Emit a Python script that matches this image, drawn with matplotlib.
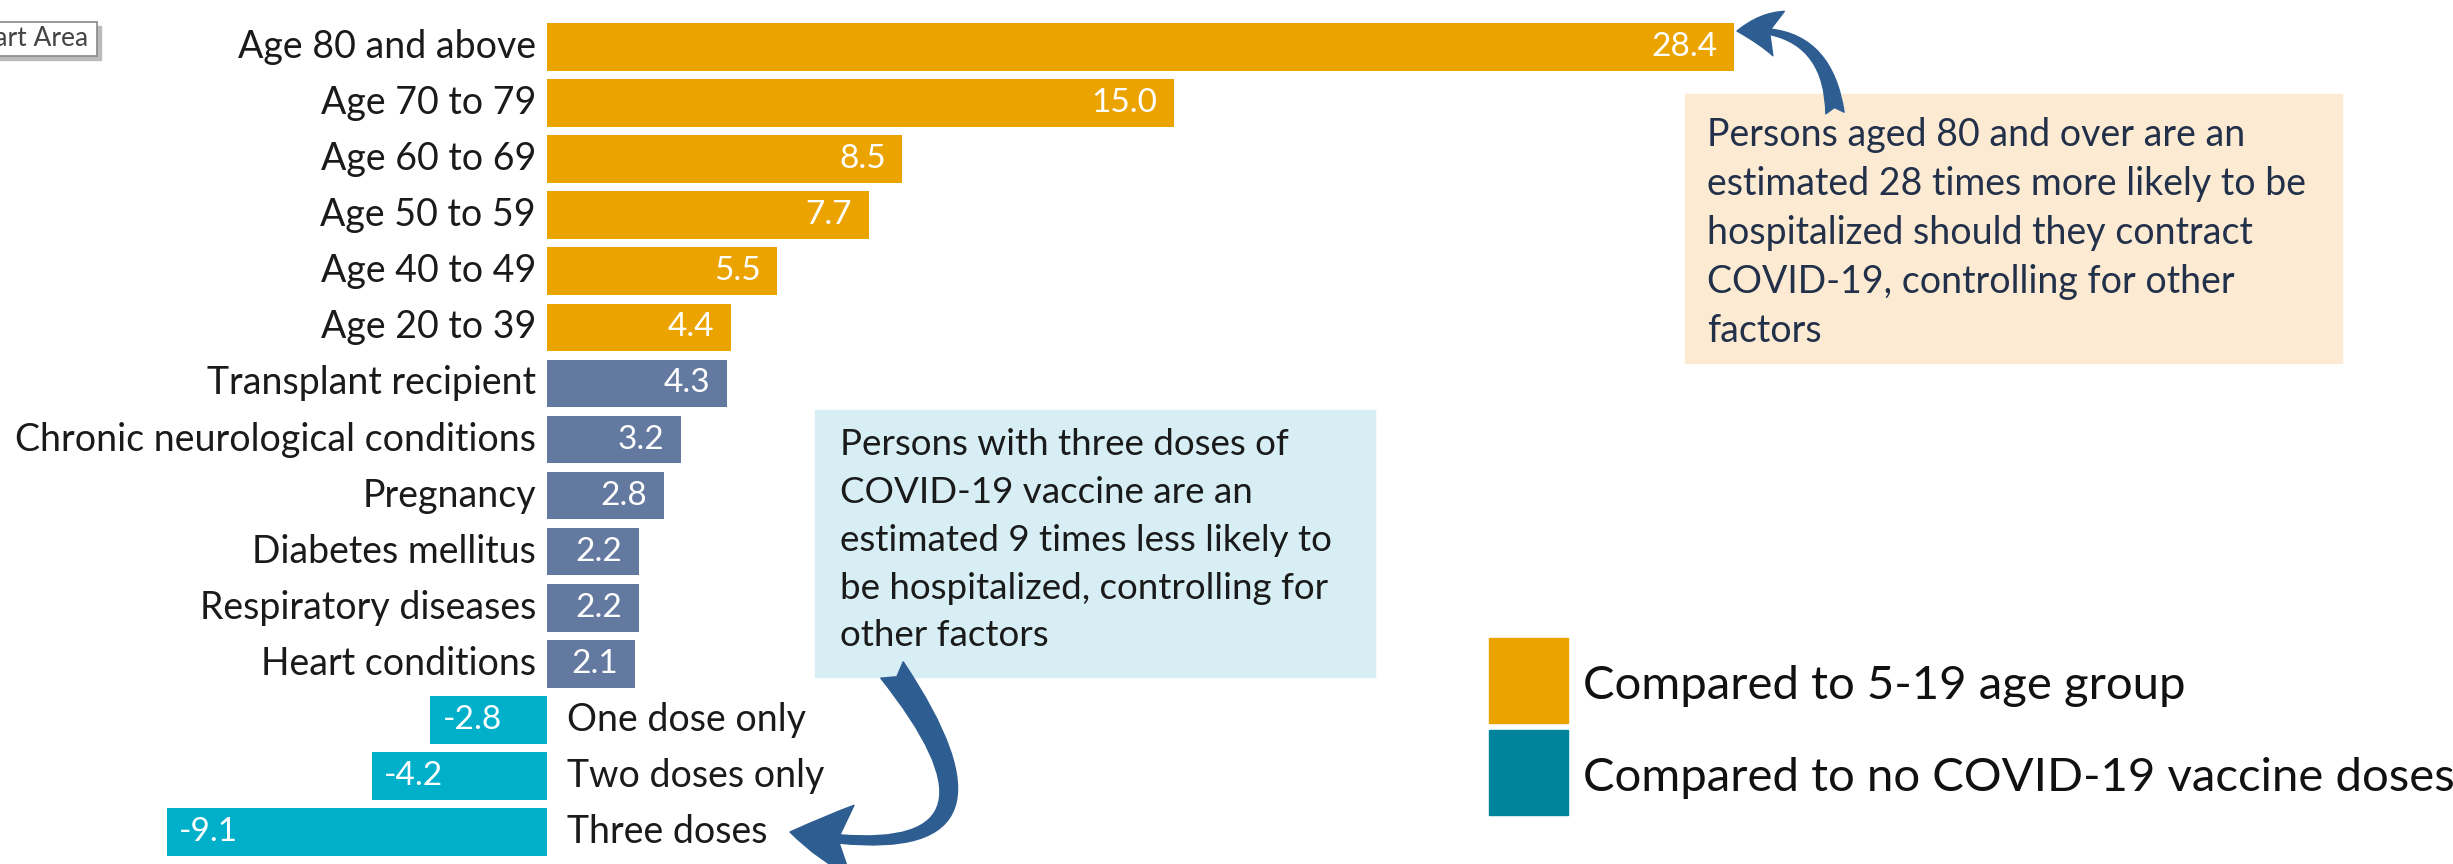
import matplotlib
matplotlib.use("Agg")
import matplotlib.pyplot as plt
from matplotlib.patches import Rectangle, FancyArrowPatch

plt.rcParams['font.family'] = ['Lato', 'DejaVu Sans']

# data
categories = ["Age 80 and above", "Age 70 to 79", "Age 60 to 69", "Age 50 to 59",
              "Age 40 to 49", "Age 20 to 39", "Transplant recipient",
              "Chronic neurological conditions", "Pregnancy", "Diabetes mellitus",
              "Respiratory diseases", "Heart conditions", "One dose only",
              "Two doses only", "Three doses"]
values = [28.4, 15.0, 8.5, 7.7, 5.5, 4.4, 4.3, 3.2, 2.8, 2.2, 2.2, 2.1, -2.8, -4.2, -9.1]
groups = ["age"] * 6 + ["condition"] * 6 + ["vaccine"] * 3

group_colors = {"age": "#EBA300", "condition": "#6379A0", "vaccine": "#00B0CA"}
legend_labels = ["Compared to 5-19 age group", "Compared to no COVID-19 vaccine doses"]
legend_colors = ["#EBA300", "#00849C"]

W, H = 2453, 864


def fx(px):
    return px / W


def fy(py):
    return 1 - py / H


fig = plt.figure(figsize=(W / 100, H / 100), dpi=100)
ax = fig.add_axes([0, 0, 1, 1])
ax.set_xlim(-13.09, 45.6)
ax.set_ylim(14.57, -0.838)
ax.axis('off')

rows = list(range(len(categories)))
colors = [group_colors[g] for g in groups]
ax.barh(rows, values, height=0.85, color=colors)

for i, (cat, v) in enumerate(zip(categories, values)):
    if v >= 0:
        ax.annotate(f"{v:.1f}", (v, i), xytext=(-12, 0), textcoords='offset points',
                    ha='right', va='center', color='white', fontsize=24)
        ax.annotate(cat, (0, i), xytext=(-8, 0), textcoords='offset points',
                    ha='right', va='center', color='#1a1a1a', fontsize=27)
    else:
        ax.annotate(f"{v:.1f}", (v, i), xytext=(9, 0), textcoords='offset points',
                    ha='left', va='center', color='white', fontsize=24)
        ax.annotate(cat, (0, i), xytext=(14, 0), textcoords='offset points',
                    ha='left', va='center', color='#1a1a1a', fontsize=27)

# annotation boxes
fig.patches.append(Rectangle((fx(1685), fy(363)), fx(2342) - fx(1685), fy(94) - fy(363),
                             transform=fig.transFigure, color='#FCEBD2', zorder=0))
fig.text(fx(1707), fy(117),
         "Persons aged 80 and over are an\nestimated 28 times more likely to be\n"
         "hospitalized should they contract\nCOVID-19, controlling for other\nfactors",
         ha='left', va='top', fontsize=27, color='#22304A', linespacing=1.45)

fig.patches.append(Rectangle((fx(815), fy(677)), fx(1375) - fx(815), fy(410) - fy(677),
                             transform=fig.transFigure, color='#D6EEF4', zorder=0))
fig.text(fx(840), fy(428),
         "Persons with three doses of\nCOVID-19 vaccine are an\nestimated 9 times less likely to\n"
         "be hospitalized, controlling for\nother factors",
         ha='left', va='top', fontsize=26.5, color='#1a1a1a', linespacing=1.55)

# curved arrows
arrow_color = '#2E5E91'
a1 = FancyArrowPatch((fx(1835), fy(113)), (fx(1737), fy(31)), transform=fig.transFigure,
                     connectionstyle="arc3,rad=0.5",
                     arrowstyle="fancy,head_length=0.5,head_width=0.55,tail_width=0.22",
                     mutation_scale=60, color=arrow_color, shrinkA=0, shrinkB=0)
fig.patches.append(a1)
a2 = FancyArrowPatch((fx(892), fy(670)), (fx(790), fy(832)), transform=fig.transFigure,
                     connectionstyle="arc3,rad=-1.25",
                     arrowstyle="fancy,head_length=0.45,head_width=0.5,tail_width=0.2",
                     mutation_scale=100, color=arrow_color, shrinkA=0, shrinkB=0)
fig.patches.append(a2)

# legend
for k, (lab, col) in enumerate(zip(legend_labels, legend_colors)):
    top = 638 + k * 92
    fig.patches.append(Rectangle((fx(1489), fy(top + 85)), fx(1568) - fx(1489), 85 / H,
                                 transform=fig.transFigure, color=col))
    fig.text(fx(1583), fy(top + 48), lab, ha='left', va='center', fontsize=34, color='#111111')

# "Chart Area" tooltip left over in the screenshot
fig.patches.append(Rectangle((fx(-10) + 4 / W, fy(56) - 4 / H), fx(97) - fx(-10), (56 - 22) / H,
                             transform=fig.transFigure, color='#BBBBBB', zorder=1))
fig.patches.append(Rectangle((fx(-10), fy(56)), fx(97) - fx(-10), (56 - 22) / H,
                             transform=fig.transFigure, facecolor='white', edgecolor='#888888',
                             linewidth=1.2, zorder=2))
fig.text(fx(88), fy(39), "Chart Area", ha='right', va='center', fontsize=19,
         color='#444444', zorder=3)

fig.savefig("out.png", dpi=100)
